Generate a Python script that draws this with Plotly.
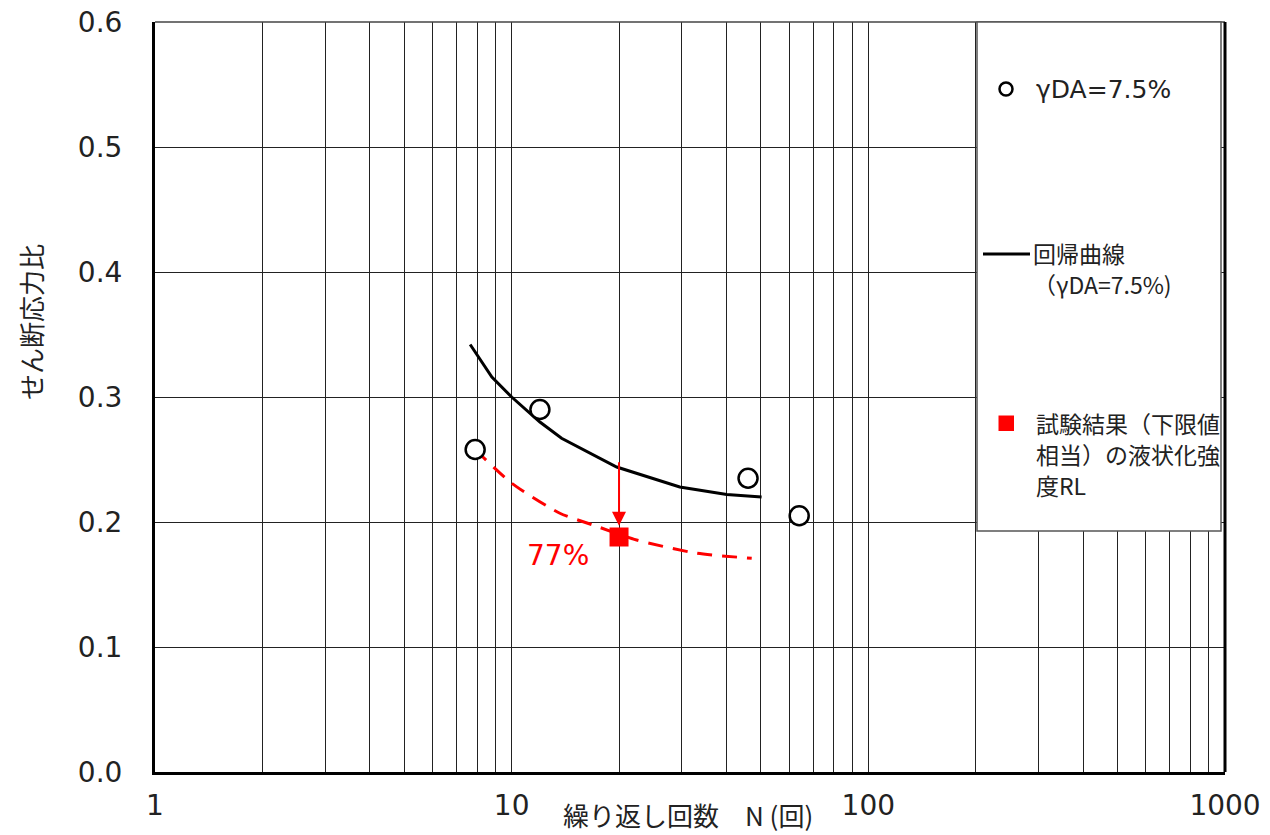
import math
import plotly.graph_objects as go

# ---------------- data ----------------
circle_N = [7.9, 12.0, 46.0, 64.0]
circle_R = [0.258, 0.290, 0.235, 0.205]

curve_N = [7.65, 8.8, 10.0, 12.0, 13.8, 19.7, 29.6, 40.1, 50.2]
curve_R = [0.342, 0.316, 0.300, 0.280, 0.267, 0.244, 0.228, 0.222, 0.220]

lower_N = [7.9, 10.0, 13.65, 16.9, 22.4, 33.0, 47.1]
lower_R = [0.258, 0.231, 0.207, 0.1976, 0.1856, 0.175, 0.171]

result_N = [20.0]
result_R = [0.188]
arrow_from_R = 0.249
arrow_to_R = 0.197
ratio_label = "77%"

x_ticks = [1, 10, 100, 1000]
x_ticktext = ["1", "10", "100", "1000"]
x_minor = [m * d for d in (1, 10, 100) for m in range(2, 10)]

legend_circle = "γDA=7.5%"
legend_line = ["回帰曲線", "（γDA=7.5%)"]
legend_square = ["試験結果（下限値", "相当）の液状化強", "度RL"]

# ---------------- layout helpers ----------------
W, H = 1270, 835
L, R, T, B = 155, 1225, 22, 772


def px(xp):
    return (xp - L) / (R - L)


def py(yp):
    return (B - yp) / (B - T)


NUM = "DejaVu Sans"
JP = "Noto Sans CJK JP"

fig = go.Figure()

fig.add_trace(go.Scatter(x=curve_N, y=curve_R, mode="lines",
                         line=dict(color="black", width=3),
                         showlegend=False, hoverinfo="skip"))
fig.add_trace(go.Scatter(x=lower_N, y=lower_R, mode="lines",
                         line=dict(color="#ff0000", width=3, dash="15px,10px",
                                   shape="spline", smoothing=0.6),
                         showlegend=False, hoverinfo="skip"))
fig.add_trace(go.Scatter(x=circle_N, y=circle_R, mode="markers",
                         marker=dict(symbol="circle", size=19, color="white",
                                     line=dict(color="black", width=2.5)),
                         showlegend=False))
fig.add_trace(go.Scatter(x=result_N, y=result_R, mode="markers",
                         marker=dict(symbol="square", size=19, color="#ff0000",
                                     line=dict(width=0)),
                         showlegend=False))

annotations = []
# arrow
annotations.append(dict(x=math.log10(result_N[0]), y=arrow_to_R,
                        ax=math.log10(result_N[0]), ay=arrow_from_R,
                        xref="x", yref="y", axref="x", ayref="y",
                        text="", showarrow=True, arrowhead=2, arrowsize=1.4,
                        arrowwidth=2, arrowcolor="#ff0000"))
# 77% label
annotations.append(dict(x=px(558), y=py(555), xref="paper", yref="paper",
                        text=ratio_label, showarrow=False,
                        font=dict(family=NUM, size=28, color="#ff0000"),
                        xanchor="center", yanchor="middle"))

# axis titles
annotations.append(dict(x=px(30), y=py(322), xref="paper", yref="paper",
                        text="せん断応力比", textangle=-90, showarrow=False,
                        font=dict(family=JP, size=26, color="#222"),
                        xanchor="center", yanchor="middle"))
annotations.append(dict(x=px(688), y=py(815), xref="paper", yref="paper",
                        text="繰り返し回数　N (回)", showarrow=False,
                        font=dict(family=JP, size=26, color="#222"),
                        xanchor="center", yanchor="middle"))

# legend texts
annotations.append(dict(x=px(1034), y=py(89), xref="paper", yref="paper",
                        text=legend_circle, showarrow=False,
                        font=dict(family=NUM + ", " + JP, size=25, color="#222"),
                        xanchor="left", yanchor="middle"))
for i, t in enumerate(legend_line):
    annotations.append(dict(x=px(1031), y=py(253 + 31 * i), xref="paper", yref="paper",
                            text=t, showarrow=False,
                            font=dict(family=JP, size=23, color="#222"),
                            xanchor="left", yanchor="middle"))
for i, t in enumerate(legend_square):
    annotations.append(dict(x=px(1034), y=py(423 + 31 * i), xref="paper", yref="paper",
                            text=t, showarrow=False,
                            font=dict(family=JP, size=23, color="#222"),
                            xanchor="left", yanchor="middle"))

shapes = [
    # top and right frame
    dict(type="line", xref="paper", yref="paper", x0=0, x1=1, y0=1, y1=1,
         line=dict(color="#444", width=1.5), layer="above"),
    dict(type="line", xref="paper", yref="paper", x0=1, x1=1, y0=0, y1=1,
         line=dict(color="black", width=3), layer="above"),
    # legend box
    dict(type="rect", xref="paper", yref="paper",
         x0=px(977), x1=px(1221), y0=py(531), y1=py(22),
         fillcolor="white", line=dict(color="#555", width=1.5), layer="above"),
    # legend circle
    dict(type="circle", xref="paper", yref="paper",
         x0=px(999.5), x1=px(1012.5), y0=py(95.5), y1=py(82.5),
         fillcolor="white", line=dict(color="black", width=2.5), layer="above"),
    # legend line
    dict(type="line", xref="paper", yref="paper",
         x0=px(983), x1=px(1030), y0=py(254), y1=py(254),
         line=dict(color="black", width=3), layer="above"),
    # legend square
    dict(type="rect", xref="paper", yref="paper",
         x0=px(998.5), x1=px(1014), y0=py(431), y1=py(415.5),
         fillcolor="#ff0000", line=dict(width=0), layer="above"),
]

fig.update_layout(
    width=W, height=H,
    margin=dict(l=L, r=W - R, t=T, b=H - B, pad=0, autoexpand=False),
    paper_bgcolor="white", plot_bgcolor="white",
    showlegend=False,
    annotations=annotations,
    shapes=shapes,
    xaxis=dict(type="log", range=[0, 3], tickvals=x_ticks, ticktext=x_ticktext,
               showgrid=True, gridcolor="#222", gridwidth=1,
               minor=dict(tickvals=x_minor, showgrid=True, gridcolor="#222",
                          gridwidth=1, ticks=""),
               showline=True, linecolor="black", linewidth=3, mirror=False,
               zeroline=False, ticks="", ticklabelstandoff=6, automargin=False,
               tickfont=dict(family=NUM, size=28, color="#222")),
    yaxis=dict(range=[0, 0.6], dtick=0.1, tickformat=".1f",
               showgrid=True, gridcolor="#222", gridwidth=1,
               showline=True, linecolor="black", linewidth=3, mirror=False,
               zeroline=False, ticks="", ticklabelstandoff=24, automargin=False,
               tickfont=dict(family=NUM, size=28, color="#222")),
)

fig.write_html("out.html", config={"displayModeBar": False},
               post_script="document.body.style.margin='0px';document.body.style.overflow='hidden';")
